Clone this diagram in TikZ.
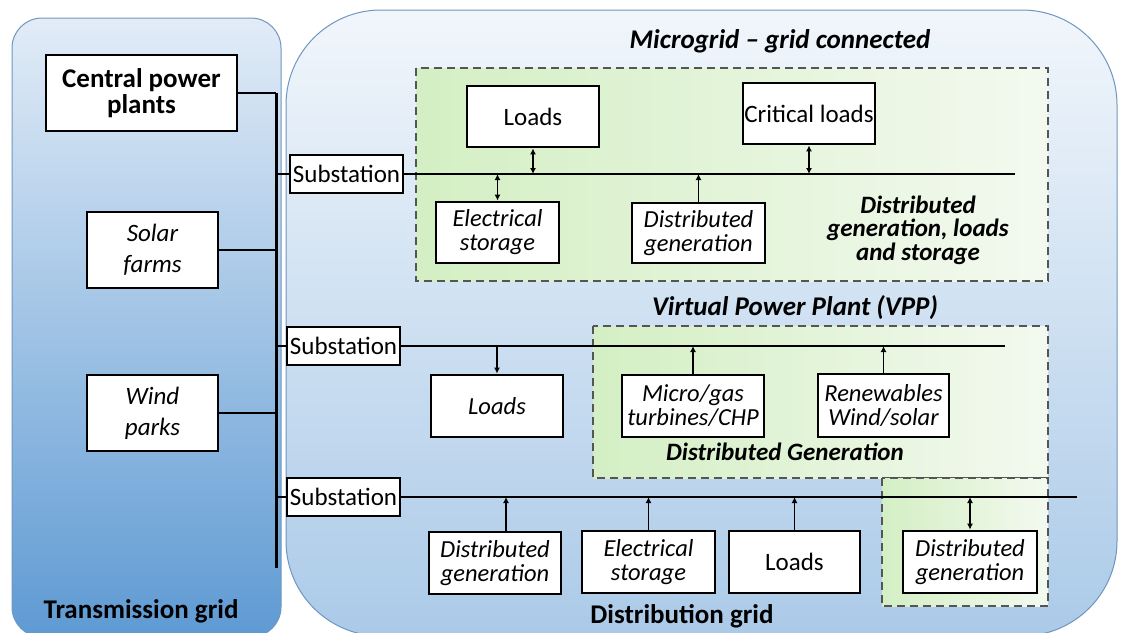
\documentclass[tikz,border=0pt]{standalone}
\usepackage{fontspec}
\setmainfont{Carlito}
\usetikzlibrary{arrows.meta}
\definecolor{lpTop}{HTML}{E2ECF7}
\definecolor{lpBot}{HTML}{5E9AD3}
\definecolor{rpTop}{HTML}{F1F6FB}
\definecolor{rpBot}{HTML}{ABCAE8}
\definecolor{panelEdge}{HTML}{6F96C2}
\definecolor{gLeft}{HTML}{D4EFC4}
\definecolor{gRight}{HTML}{F3F9EF}
\definecolor{dashEdge}{HTML}{555555}
\begin{document}
\begin{tikzpicture}[x=1pt,y=-1pt,
  box/.style={draw, line width=2.8pt, fill=white, inner sep=0pt, align=center,
    font=\fontsize{25}{24}\selectfont},
  itbox/.style={box, font=\fontsize{24.5}{24}\selectfont\itshape},
  greenbox/.style={draw=dashEdge, dash pattern=on 8pt off 5pt, line width=1.3pt, left color=gLeft, right color=gRight},
  title/.style={inner sep=0pt, align=center, font=\fontsize{27}{24}\selectfont\bfseries\itshape},
  bus/.style={line width=1.5pt},
  link/.style={line width=1.6pt},
  arr/.style={line width=1.8pt, -{Latex[length=6pt,width=6pt]}},
  darr/.style={line width=1.8pt, {Latex[length=6pt,width=6pt]}-{Latex[length=6pt,width=6pt]}}]
\clip (0,0) rectangle (1123,632);
\fill[white] (0,0) rectangle (1123,632);
% panels
\shade[top color=lpTop, bottom color=lpBot, draw=panelEdge, line width=1pt, rounded corners=30pt]
  (12,18) rectangle (281,637);
\shade[top color=rpTop, bottom color=rpBot, draw=panelEdge, line width=1pt, rounded corners=95pt]
  (286,10) rectangle (1117,636);
% green dashed areas
\path[greenbox] (416,68) rectangle (1048,281);
\path[greenbox] (593,326) rectangle (1048,478);
\path[greenbox] (882,478) rectangle (1048,606);

% transmission side
\node[box, minimum width=191pt, minimum height=76pt, font=\fontsize{27}{25.5}\selectfont\bfseries]
  (cpp) at (141.5,93) {Central power\\plants};
\node[itbox, minimum width=131pt, minimum height=76pt, font=\fontsize{25}{31}\selectfont\itshape]
  (solar) at (152.5,250) {Solar\\farms};
\node[itbox, minimum width=131pt, minimum height=76pt, font=\fontsize{25}{31}\selectfont\itshape]
  (wind) at (152.5,413) {Wind\\parks};
\node[inner sep=0pt, font=\fontsize{27}{24}\selectfont\bfseries] (tg) at (141,611) {Transmission grid};

\coordinate (vt) at (276,93);
\coordinate (vb) at (276,568);
\draw[line width=3pt] (vt) -- (vb);
\draw[link] (cpp.east) -- (cpp.east -| vt);
\draw[link] (solar.east) -- (solar.east -| vt);
\draw[link] (wind.east) -- (wind.east -| vt);

% substations
\node[box, minimum width=113pt, minimum height=38pt] (sub1) at (346.5,174) {Substation};
\node[box, minimum width=113pt, minimum height=38pt] (sub2) at (343.5,346) {Substation};
\node[box, minimum width=113pt, minimum height=38pt] (sub3) at (343.5,497) {Substation};
\draw[link] (sub1.west -| vt) -- (sub1.west);
\draw[link] (sub2.west -| vt) -- (sub2.west);
\draw[link] (sub3.west -| vt) -- (sub3.west);

\coordinate (e1) at (1015,174);
\coordinate (e2) at (1005,346);
\coordinate (e3) at (1077,497);
\draw[bus] (sub1.east) -- (sub1.east -| e1);
\draw[bus] (sub2.east) -- (sub2.east -| e2);
\draw[bus] (sub3.east) -- (sub3.east -| e3);

% microgrid
\node[title] (mgt) at (780,41) {Microgrid -- grid connected};
\node[box, minimum width=132pt, minimum height=61pt] (loads1) at (533,116.5) {Loads};
\node[box, minimum width=132pt, minimum height=61pt] (crit) at (809,113.5) {Critical loads};
\node[itbox, minimum width=123pt, minimum height=61pt] (estor1) at (497.5,232.5) {Electrical\\storage};
\node[itbox, minimum width=133pt, minimum height=60pt] (dg1) at (698.5,233) {Distributed\\generation};
\node[title, font=\fontsize{25}{23.5}\selectfont\bfseries\itshape] (dgls) at (918,230) {Distributed\\generation, loads\\and storage};
\draw[darr] (loads1.south) -- (loads1.south |- sub1.east);
\draw[darr] (crit.south) -- (crit.south |- sub1.east);
\draw[darr] (estor1.north) -- (estor1.north |- sub1.east);
\draw[arr] (dg1.north) -- (dg1.north |- sub1.east);

% VPP
\node[title] (vppt) at (795,308) {Virtual Power Plant (VPP)};
\node[itbox, minimum width=132pt, minimum height=62pt] (loads2) at (497,406) {Loads};
\node[itbox, minimum width=142pt, minimum height=62pt] (micro) at (693,406) {Micro/gas\\turbines/CHP};
\node[itbox, minimum width=131pt, minimum height=63pt] (renew) at (883.5,405.5) {Renewables\\Wind/solar};
\node[title, font=\fontsize{25}{24}\selectfont\bfseries\itshape] (dgt) at (785,452) {Distributed Generation};
\draw[arr] (loads2.north |- sub2.east) -- (loads2.north);
\draw[arr] (micro.north) -- (micro.north |- sub2.east);
\draw[arr] (renew.north) -- (renew.north |- sub2.east);

% distribution grid
\node[itbox, minimum width=132pt, minimum height=62pt] (dg3a) at (495,563) {Distributed\\generation};
\node[itbox, minimum width=133pt, minimum height=62pt] (estor3) at (648.5,562) {Electrical\\storage};
\node[box, minimum width=131pt, minimum height=62pt] (loads3) at (794.5,562) {Loads};
\node[itbox, minimum width=134pt, minimum height=62pt] (dg3b) at (970,562) {Distributed\\generation};
\node[inner sep=0pt, font=\fontsize{27}{24}\selectfont\bfseries] (dgrid) at (682,616) {Distribution grid};
\draw[arr] ([xshift=11pt]dg3a.north) -- ([xshift=11pt]dg3a.north |- sub3.east);
\draw[arr] (estor3.north) -- (estor3.north |- sub3.east);
\draw[arr] (loads3.north) -- (loads3.north |- sub3.east);
\draw[darr] (dg3b.north) -- (dg3b.north |- sub3.east);
\end{tikzpicture}
\end{document}
